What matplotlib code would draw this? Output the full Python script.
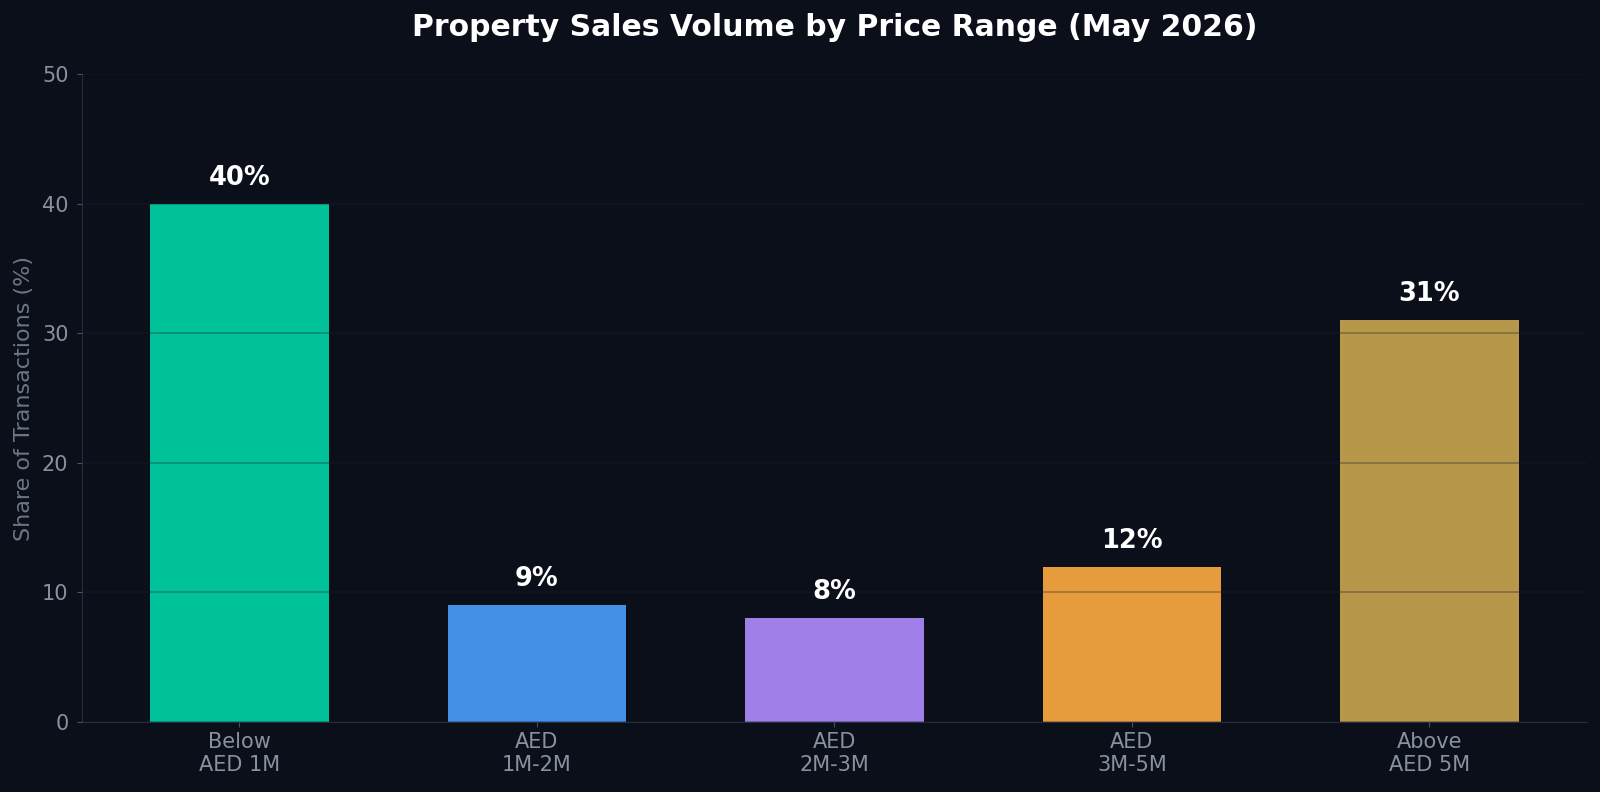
import matplotlib.pyplot as plt

# Data
categories = ['Below\nAED 1M', 'AED\n1M-2M', 'AED\n2M-3M', 'AED\n3M-5M', 'Above\nAED 5M']
shares = [40, 9, 8, 12, 31]
colors = ['#00C29A', '#4490E8', '#A07FE8', '#E69C3C', '#B7984A']

bg = '#0B0F1A'
fig = plt.figure(figsize=(16, 7.92), dpi=100, facecolor=bg)
ax = fig.add_axes([0.051, 0.0884, 0.941, 0.818])
ax.set_facecolor(bg)

bars = ax.bar(categories, shares, width=0.6, color=colors)

for bar, v in zip(bars, shares):
    ax.text(bar.get_x() + bar.get_width() / 2, v + 1, f'{v}%',
            ha='center', va='bottom', color='white', fontsize=18.5, fontweight='bold')

ax.set_ylim(0, 50)
ax.set_yticks([0, 10, 20, 30, 40, 50])
ax.set_ylabel('Share of Transactions (%)', color='#6E7585', fontsize=16, labelpad=5.5)
ax.set_title('Property Sales Volume by Price Range (May 2026)', color='white',
             fontsize=21.5, fontweight='bold', pad=27.5)

# grid drawn over the bars, very faint
ax.set_axisbelow(False)
ax.yaxis.grid(True, color='#1A1F2C', alpha=0.35, linewidth=1.2)
ax.tick_params(colors='#8A919E', labelsize=15)
ax.tick_params(axis='both', color='#4A5060')
ax.tick_params(axis='y', pad=6)
for side in ['top', 'right']:
    ax.spines[side].set_visible(False)
for side in ['left', 'bottom']:
    ax.spines[side].set_color('#262C3A')

fig.savefig('out.png', facecolor=bg)
